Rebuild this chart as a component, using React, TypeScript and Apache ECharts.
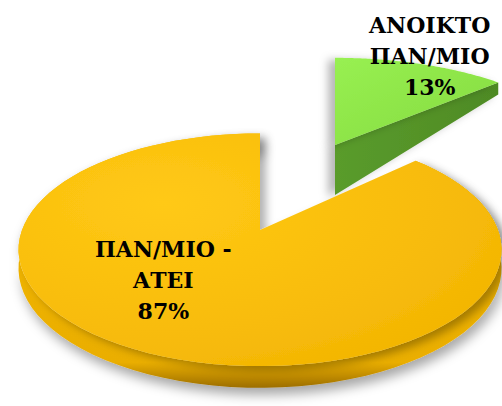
import React, { useEffect, useRef } from "react";
import * as echarts from "echarts";

const categories = ["ΑΝΟΙΚΤΟ ΠΑΝ/ΜΙΟ", "ΠΑΝ/ΜΙΟ - ΑΤΕΙ"];
const labelLines = [["ΑΝΟΙΚΤΟ", "ΠΑΝ/ΜΙΟ"], ["ΠΑΝ/ΜΙΟ -", "ΑΤΕΙ"]];
const shares = [13, 87];

// per-slice drawing geometry (styling only)
const GEOM = [
  { cx: 335, cy: 145, rx: 250, ry: 102, p: 0.17, t0: 50, t1: 12, labelR: 1.12, labelRot: 0 },
  { cx: 260, cy: 230, rx: 238, ry: 113, p: 0.17, t0: 18, t1: 18, labelR: 0.56, labelRot: 19 },
];

function proj(g: any, r: number, a: number) {
  const u = r * Math.sin(a);
  const v = -r * Math.cos(a);
  const w = 1 / (1 - g.p * v);
  return [g.cx + g.rx * u * w, g.cy + g.ry * v * w, w];
}

export default function App() {
  const ref = useRef<HTMLDivElement>(null);
  useEffect(() => {
    const chart = echarts.init(ref.current!, null, { renderer: "svg" });
    const total = shares.reduce((s, v) => s + v, 0);

    const renderItem = (params: any, api: any) => {
      const i = params.dataIndex;
      const val = api.value(0);
      let before = 0;
      for (let k = 0; k < i; k++) before += shares[k];
      const a0 = (before / total) * Math.PI * 2;
      const a1 = ((before + val) / total) * Math.PI * 2;
      const g = GEOM[i];
      const N = 90;
      const arcTop: number[][] = [];
      const arcBot: number[][] = [];
      for (let s = 0; s <= N; s++) {
        const a = a0 + ((a1 - a0) * s) / N;
        const pt = proj(g, 1, a);
        arcTop.push([pt[0], pt[1]]);
        arcBot.push([pt[0], pt[1] + g.t1 * pt[2]]);
      }
      const vtx = [g.cx, g.cy];
      const children: any[] = [];
      if (i === 0) {
        const end = arcTop[arcTop.length - 1];
        children.push({
          type: "polygon",
          z2: 1,
          shape: { points: [vtx, end, [end[0], end[1] + g.t1], [vtx[0], vtx[1] + g.t0]] },
          style: {
            fill: { type: "linear", x: 0, y: 0, x2: 1, y2: 0, colorStops: [
              { offset: 0, color: "#5A9C2C" }, { offset: 1, color: "#4E8A24" }] },
            shadowBlur: 8, shadowOffsetX: -7, shadowOffsetY: 2, shadowColor: "rgba(0,0,0,0.28)",
          },
        });
        children.push({
          type: "polygon",
          z2: 2,
          shape: { points: [vtx, ...arcTop] },
          style: {
            fill: { type: "linear", x: 0, y: 0, x2: 1, y2: 1, colorStops: [
              { offset: 0, color: "#98F052" }, { offset: 1, color: "#84DA3E" }] },
            shadowBlur: 8, shadowOffsetX: -7, shadowOffsetY: 2, shadowColor: "rgba(0,0,0,0.28)",
          },
        });
      } else {
        children.push({
          type: "polygon",
          z2: 10,
          shape: { points: [...arcTop, ...arcBot.slice().reverse()] },
          style: {
            fill: { type: "linear", x: 0, y: 0, x2: 0, y2: 1, colorStops: [
              { offset: 0, color: "#F4B800" }, { offset: 0.9, color: "#EAAE00" }, { offset: 1, color: "#9C6E00" }] },
            shadowBlur: 12, shadowOffsetX: 3, shadowOffsetY: 7, shadowColor: "rgba(0,0,0,0.35)",
          },
        });
        children.push({
          type: "polygon",
          z2: 11,
          shape: { points: [vtx, ...arcTop] },
          style: {
            fill: { type: "radial", x: 0.3, y: 0.3, r: 0.9, colorStops: [
              { offset: 0, color: "#FFC915" }, { offset: 0.6, color: "#F8BC0B" }, { offset: 1, color: "#F1B300" }] },
            shadowBlur: 8, shadowOffsetX: 6, shadowOffsetY: 4, shadowColor: "rgba(0,0,0,0.3)",
          },
        });
      }
      return { type: "group", children };
    };

    // label anchors derived from slice geometry
    const total2 = shares.reduce((s, v) => s + v, 0);
    let acc = 0;
    const labelGraphics = shares.map((v, i) => {
      const g = GEOM[i];
      const mid = ((acc + v / 2) / total2) * Math.PI * 2 + (g.labelRot * Math.PI) / 180;
      acc += v;
      const lp = proj(g, g.labelR, mid);
      return {
        type: "text",
        x: lp[0],
        y: lp[1],
        z: 100,
        style: {
          text: labelLines[i].join("\n") + "\n" + v + "%",
          fontFamily: "DejaVu Serif",
          fontWeight: "bold",
          fontSize: 22,
          lineHeight: 31,
          fill: "#000",
          align: "center",
          verticalAlign: "middle",
        },
      };
    });

    chart.setOption({
      animation: false,
      backgroundColor: "#ffffff",
      graphic: labelGraphics,
      series: [
        {
          type: "custom",
          coordinateSystem: "none",
          renderItem,
          data: shares.map((v, k) => ({ name: categories[k], value: [v] })),
        },
      ],
    });
    return () => chart.dispose();
  }, []);
  return <div ref={ref} style={{ position: "fixed", left: 0, top: 0, width: 502, height: 406 }} />;
}
